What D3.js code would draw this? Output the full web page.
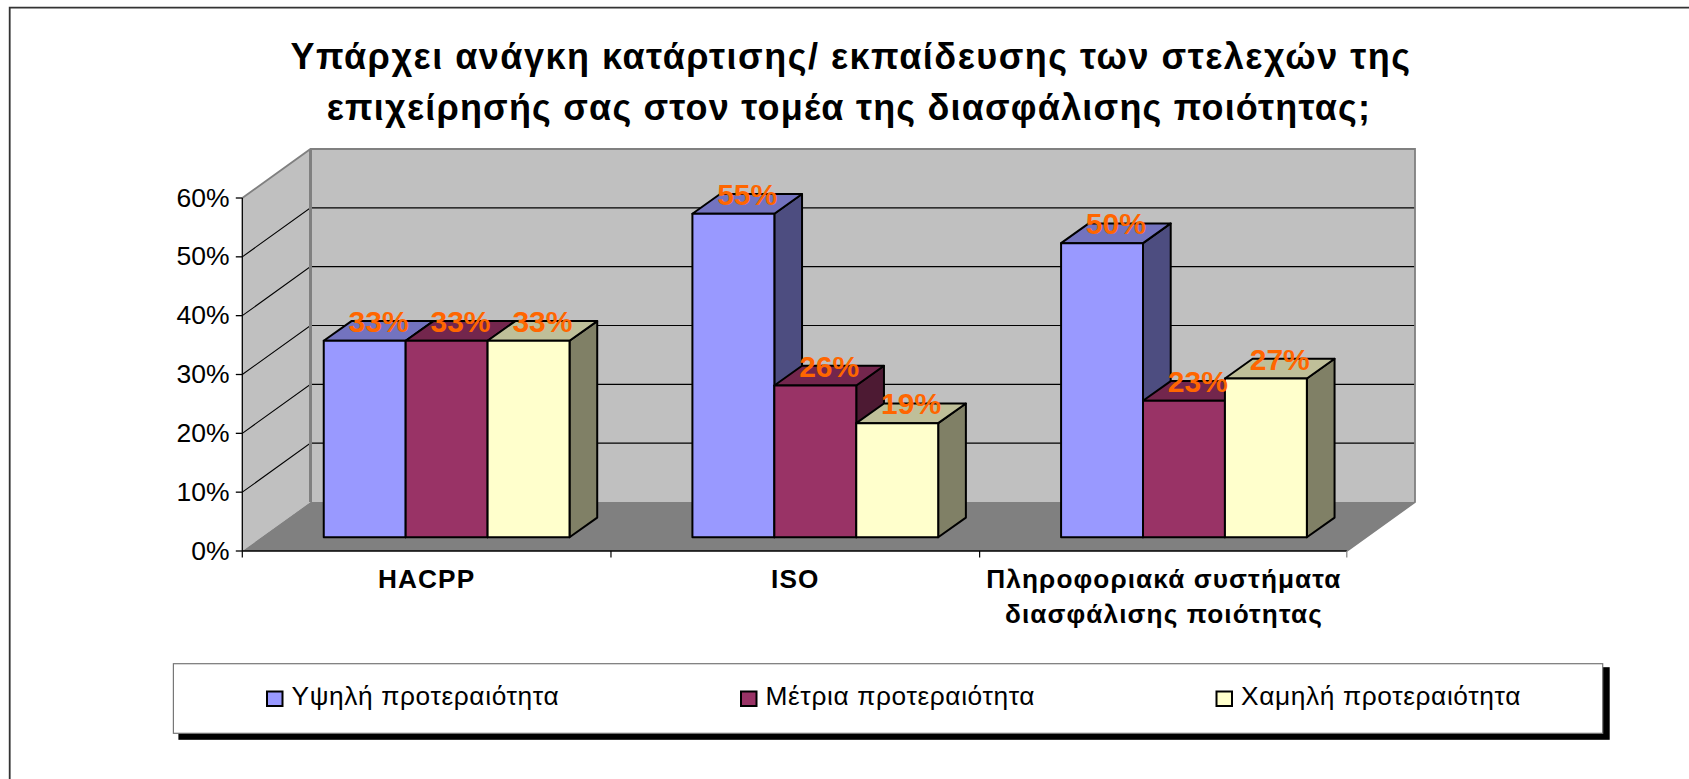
<!DOCTYPE html>
<html lang="el">
<head>
<meta charset="utf-8">
<script src="https://cdn.jsdelivr.net/npm/d3@7"></script>
<style>
html,body{margin:0;padding:0;background:#fff}
svg{display:block}
text{font-family:"Liberation Sans",Arial,sans-serif;fill:#000}
</style>
</head>
<body>
<svg id="chart" width="1689" height="779"></svg>
<script>
const titleLines = ["Υπάρχει ανάγκη κατάρτισης/ εκπαίδευσης των στελεχών της","επιχείρησής σας στον τομέα της διασφάλισης ποιότητας;"];
const categories = ["HACPP","ISO","Πληροφοριακά συστήματα διασφάλισης ποιότητας"];
const categoryLines = [["HACPP"],["ISO"],["Πληροφοριακά συστήματα","διασφάλισης ποιότητας"]];
const seriesNames = ["Υψηλή προτεραιότητα","Μέτρια προτεραιότητα","Χαμηλή προτεραιότητα"];
const high = [33.4,55,50];
const medium = [33.4,25.8,23.2];
const low = [33.4,19.4,27];
const labelsHigh = ["33%","55%","50%"];
const labelsMedium = ["33%","26%","23%"];
const labelsLow = ["33%","19%","27%"];
const seriesValues = [high,medium,low];
const seriesLabels = [labelsHigh,labelsMedium,labelsLow];
const yTicks = [0,10,20,30,40,50,60];
const faceColors = [
  {front:"#9999FF",top:"#7373BF",side:"#4D4D80"},
  {front:"#993366",top:"#73264D",side:"#4D1A33"},
  {front:"#FFFFCC",top:"#BFBF99",side:"#808066"}
];

const svg = d3.select("#chart");

// Layout
const axisLeft = 242.3, axisRight = 1346.8, axisBottom = 551, axisTop = 198;
const depthX = 68.2, depthY = 49;
const barFrontX = 20, barFrontY = 13.7;
const barDepthX = 27.7, barDepthY = 19.7;

const y = d3.scaleLinear().domain([0,60]).range([axisBottom,axisTop]);
const x = d3.scaleBand().domain(categories).range([axisLeft,axisRight+1.5]).paddingInner(0).paddingOuter(0);
const inner = d3.scaleBand().domain(d3.range(3)).range([0,x.bandwidth()]).paddingInner(0).paddingOuter(0.75);

const poly = pts => pts.map(p=>p.join(",")).join(" ");

// Page border: only top and left edges are visible
svg.append("path").attr("d","M9.7,779V7.7H1689").attr("fill","none").attr("stroke","#333").attr("stroke-width",1.8);

// Title
const titleX = [851,849], titleY = [69,120], titleSpacing = [1.5,1.2];
svg.append("g").selectAll("text").data(titleLines).join("text")
  .attr("x",(d,i)=>titleX[i]).attr("y",(d,i)=>titleY[i])
  .attr("text-anchor","middle")
  .attr("font-size",36).attr("font-weight","bold").attr("letter-spacing",(d,i)=>titleSpacing[i])
  .text(d=>d);

// Walls and floor
const wallBottom = axisBottom-depthY, wallTop = axisTop-depthY;
const backLeft = axisLeft+depthX, backRight = axisRight+depthX;
svg.append("polygon").attr("points",poly([[backLeft,wallTop],[backRight,wallTop],[backRight,wallBottom],[backLeft,wallBottom]])).attr("fill","#C0C0C0");
svg.append("polygon").attr("points",poly([[axisLeft,axisTop],[backLeft,wallTop],[backLeft,wallBottom],[axisLeft,axisBottom]])).attr("fill","#C0C0C0");
svg.append("polygon").attr("points",poly([[axisLeft,axisBottom],[backLeft,wallBottom],[backRight,wallBottom],[axisRight,axisBottom]])).attr("fill","#808080");

// Gridlines on both walls
const grid = svg.append("g").attr("fill","none").attr("stroke","#000").attr("stroke-width",1.1);
yTicks.filter(t=>t>0 && t<60).forEach(t=>{
  grid.append("path").attr("d",`M${axisLeft},${y(t)}L${backLeft},${y(t)-depthY}H${backRight}`);
});

// Grey wall edges
svg.append("path").attr("d",`M${axisLeft},${axisTop}L${backLeft},${wallTop}H${backRight}V${wallBottom}L${axisRight},${axisBottom}`)
  .attr("fill","none").attr("stroke","#808080").attr("stroke-width",1.8);
svg.append("line").attr("x1",backLeft).attr("x2",backLeft).attr("y1",wallTop).attr("y2",wallBottom)
  .attr("stroke","#808080").attr("stroke-width",3);

// Axes
svg.append("line").attr("x1",axisLeft).attr("x2",axisLeft).attr("y1",axisTop).attr("y2",axisBottom).attr("stroke","#000").attr("stroke-width",1.3);
svg.append("line").attr("x1",axisLeft).attr("x2",axisRight).attr("y1",axisBottom).attr("y2",axisBottom).attr("stroke","#000").attr("stroke-width",1.3);
const yAxis = svg.append("g");
yAxis.selectAll("line").data(yTicks).join("line")
  .attr("x1",axisLeft-6.5).attr("x2",axisLeft).attr("y1",d=>y(d)).attr("y2",d=>y(d)).attr("stroke","#000").attr("stroke-width",1.3);
yAxis.selectAll("text").data(yTicks).join("text")
  .attr("x",229.5).attr("y",d=>y(d)+8.5).attr("text-anchor","end").attr("font-size",26.5).text(d=>d+"%");
const xEdges = [...categories.map(c=>x(c)),axisRight];
svg.append("g").selectAll("line").data(xEdges).join("line")
  .attr("x1",d=>d).attr("x2",d=>d).attr("y1",axisBottom).attr("y2",axisBottom+6.5)
  .attr("stroke",(d,i)=>i===3?"#808080":"#000").attr("stroke-width",1.2);

// Category labels
const catG = svg.append("g").selectAll("text").data(categories).join("text")
  .attr("text-anchor","middle").attr("font-size",26.2).attr("font-weight","bold").attr("letter-spacing",1.1);
catG.selectAll("tspan").data((d,i)=>categoryLines[i].map(l=>({l,c:d}))).join("tspan")
  .attr("x",d=>x(d.c)+x.bandwidth()/2).attr("y",(d,i)=>588+i*34.5).text(d=>d.l);

// Bars
const barsRoot = svg.append("g").attr("stroke","#000").attr("stroke-width",2).attr("stroke-linejoin","round");
const labelData = [];
categories.forEach((c,ci)=>{
  seriesValues.forEach((vals,si)=>{
    const v = vals[ci];
    const x0 = x(c)+inner(si)+barFrontX, x1 = x0+inner.bandwidth();
    const yB = y(0)-barFrontY, yT = y(v)-barFrontY;
    const col = faceColors[si];
    const g = barsRoot.append("g");
    g.append("polygon").attr("fill",col.side).attr("points",poly([[x1,yT],[x1+barDepthX,yT-barDepthY],[x1+barDepthX,yB-barDepthY],[x1,yB]]));
    g.append("polygon").attr("fill",col.top).attr("points",poly([[x0,yT],[x0+barDepthX,yT-barDepthY],[x1+barDepthX,yT-barDepthY],[x1,yT]]));
    g.append("rect").attr("fill",col.front).attr("x",x0).attr("y",yT).attr("width",x1-x0).attr("height",yB-yT);
    labelData.push({t:seriesLabels[si][ci],x:(x0+x1)/2+barDepthX/2,y:yT-barDepthY/2+1});
  });
});

// Data labels
svg.append("g").selectAll("text").data(labelData).join("text")
  .attr("x",d=>d.x).attr("y",d=>d.y).attr("text-anchor","middle")
  .attr("font-size",30).attr("font-weight","bold").style("fill","#FF6600").text(d=>d.t);

// Legend
const legendBox = {x:173.4,y:663.7,w:1429.3,h:69.6};
const legendSwatchX = [267,741,1216.5];
svg.append("rect").attr("x",legendBox.x+5).attr("y",legendBox.y+3.5).attr("width",legendBox.w+2).attr("height",legendBox.h+3).attr("fill","#000");
svg.append("rect").attr("x",legendBox.x).attr("y",legendBox.y).attr("width",legendBox.w).attr("height",legendBox.h).attr("fill","#fff").attr("stroke","#777").attr("stroke-width",1.2);
const leg = svg.append("g").selectAll("g").data(seriesNames).join("g");
leg.append("rect").attr("x",(d,i)=>legendSwatchX[i]).attr("y",691.5).attr("width",15.5).attr("height",14.5)
  .attr("fill",(d,i)=>faceColors[i].front).attr("stroke","#000").attr("stroke-width",2);
leg.append("text").attr("x",(d,i)=>legendSwatchX[i]+24.5).attr("y",705).attr("font-size",26.3).attr("letter-spacing",0.62).text(d=>d);
</script>
</body>
</html>
